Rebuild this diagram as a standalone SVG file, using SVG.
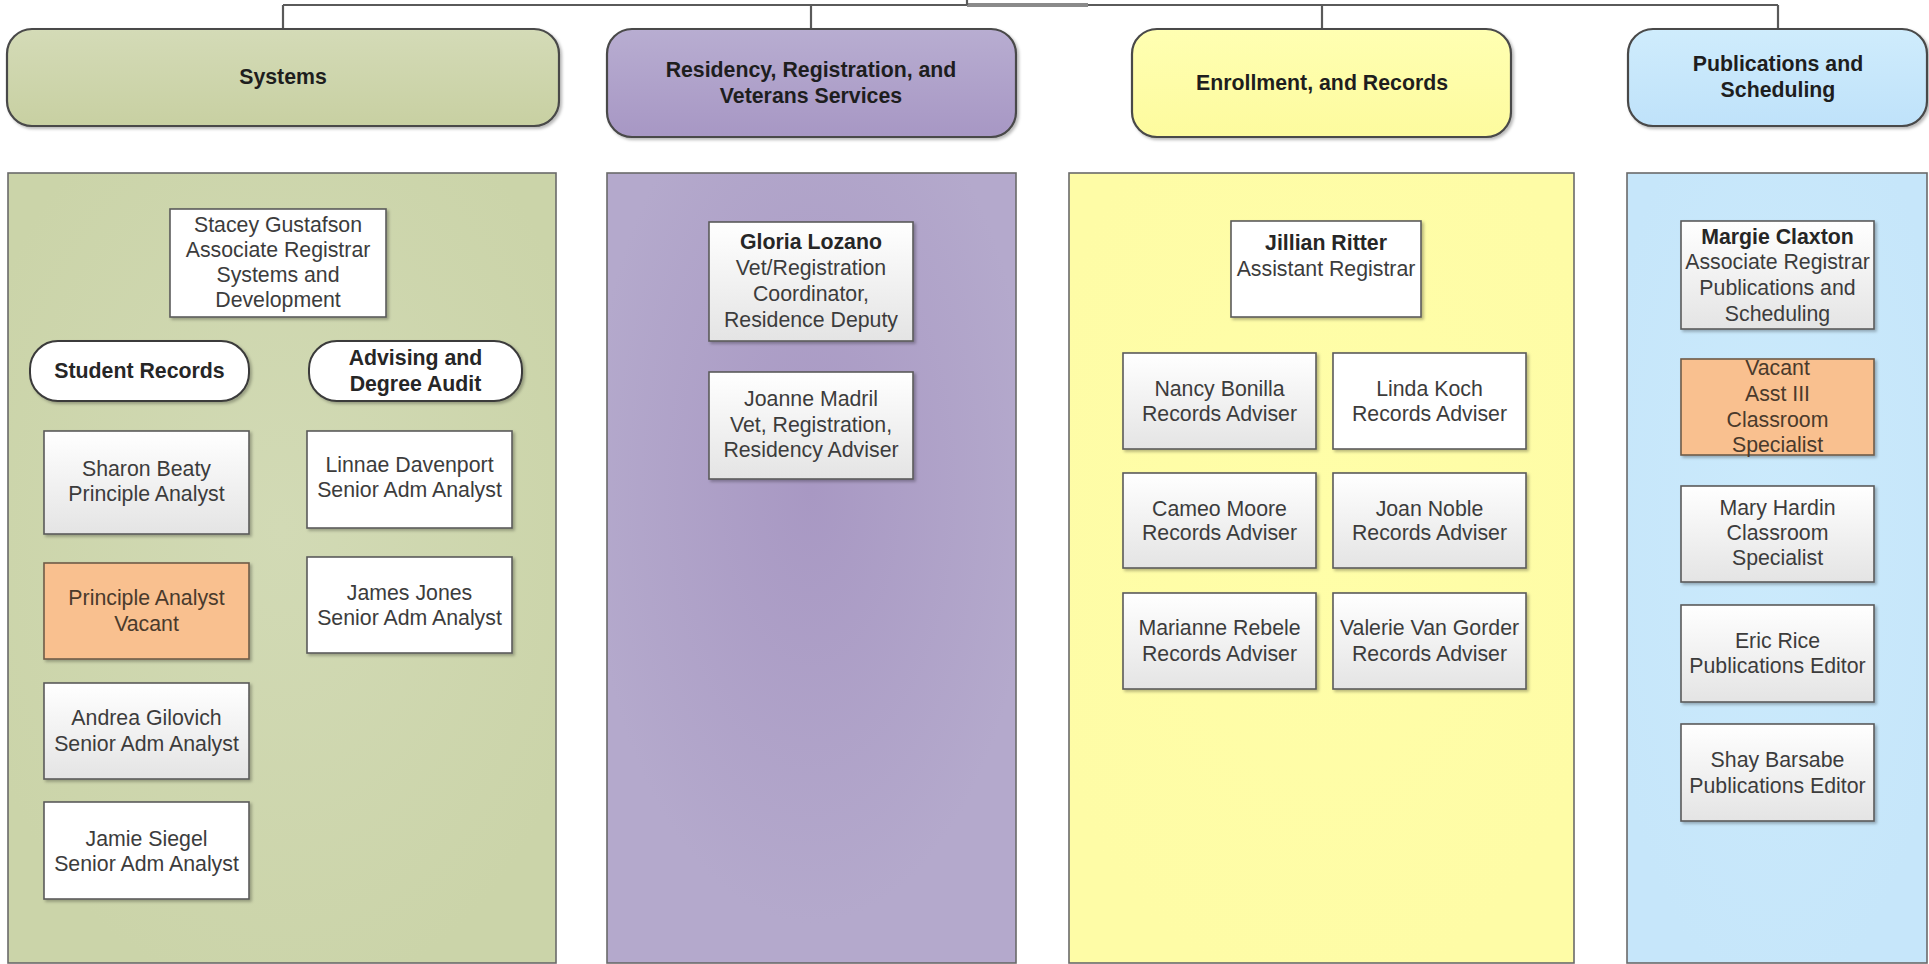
<svg xmlns="http://www.w3.org/2000/svg" width="1929" height="964" viewBox="0 0 1929 964">
<defs>
<linearGradient id="gHdrGreen" x1="0" y1="0" x2="0" y2="1"><stop offset="0" stop-color="#d4dbb7"/><stop offset="1" stop-color="#c8d0a2"/></linearGradient>
<linearGradient id="gHdrPurple" x1="0" y1="0" x2="0" y2="1"><stop offset="0" stop-color="#b8add1"/><stop offset="1" stop-color="#a797c4"/></linearGradient>
<linearGradient id="gHdrYellow" x1="0" y1="0" x2="0" y2="1"><stop offset="0" stop-color="#ffffb2"/><stop offset="1" stop-color="#fdfb9e"/></linearGradient>
<linearGradient id="gHdrBlue" x1="0" y1="0" x2="0" y2="1"><stop offset="0" stop-color="#cfecfc"/><stop offset="1" stop-color="#bfe2fa"/></linearGradient>
<radialGradient id="gPanGreen" cx="0.5" cy="0.45" r="0.6"><stop offset="0" stop-color="#d2dab5"/><stop offset="1" stop-color="#cbd4a9"/></radialGradient>
<radialGradient id="gPanPurple" cx="0.5" cy="0.4" r="0.55"><stop offset="0" stop-color="#a898c3"/><stop offset="1" stop-color="#b4a9cc"/></radialGradient>
<radialGradient id="gPanYellow" cx="0.5" cy="0.45" r="0.6"><stop offset="0" stop-color="#fffea8"/><stop offset="1" stop-color="#fefca6"/></radialGradient>
<radialGradient id="gPanBlue" cx="0.5" cy="0.45" r="0.6"><stop offset="0" stop-color="#cbeafc"/><stop offset="1" stop-color="#c6e6fa"/></radialGradient>
<linearGradient id="gBox" x1="0" y1="0" x2="0" y2="1"><stop offset="0" stop-color="#ffffff"/><stop offset="1" stop-color="#e4e4e4"/></linearGradient>
<filter id="sh" x="-10%" y="-10%" width="125%" height="125%"><feDropShadow dx="2" dy="2" stdDeviation="1.5" flood-color="#000" flood-opacity="0.28"/></filter>
</defs>
<style>
.hdr{stroke:#484848;stroke-width:2.2;filter:url(#sh)}
.pan{stroke:#6a6a6a;stroke-width:1.6}
.box{stroke:#5a5a5a;stroke-width:1.6;filter:url(#sh)}
.wht{fill:#ffffff}
.grd{fill:url(#gBox)}
.org{fill:#f9c08f;stroke:#6e5b48}
.pill{fill:#ffffff;stroke:#3a3a3a;stroke-width:2;filter:url(#sh)}
text{font-family:"Liberation Sans",Arial,Helvetica,sans-serif;font-size:21.3px;fill:#3c3c3c;text-anchor:middle}
.b{font-weight:bold;fill:#1e1e1e}
.bo{font-weight:bold;fill:#262626}
.conn{stroke:#5a5a5a;stroke-width:2.2;fill:none}
</style>
<rect width="1929" height="964" fill="#ffffff"/>

<g id="connectors">
<line class="conn" x1="283" y1="5" x2="1778" y2="5"/>
<line x1="967" y1="5" x2="1088" y2="5" stroke="#8a8a8a" stroke-width="4"/>
<line class="conn" x1="967" y1="0" x2="967" y2="5"/>
<line class="conn" x1="283" y1="5" x2="283" y2="29"/>
<line class="conn" x1="811" y1="5" x2="811" y2="29"/>
<line class="conn" x1="1322" y1="5" x2="1322" y2="29"/>
<line class="conn" x1="1778" y1="5" x2="1778" y2="29"/>
</g>

<g id="hdr-systems">
<rect class="hdr" x="7" y="29" width="552" height="97" rx="25" fill="url(#gHdrGreen)"/>
<text class="b" x="283" y="83.5">Systems</text>
</g>
<g id="hdr-residency">
<rect class="hdr" x="607" y="29" width="409" height="108" rx="25" fill="url(#gHdrPurple)"/>
<text class="b" x="811" y="76.5">Residency, Registration, and</text>
<text class="b" x="811" y="102.5">Veterans Services</text>
</g>
<g id="hdr-enrollment">
<rect class="hdr" x="1132" y="29" width="379" height="108" rx="25" fill="url(#gHdrYellow)"/>
<text class="b" x="1322" y="89.5">Enrollment, and Records</text>
</g>
<g id="hdr-publications">
<rect class="hdr" x="1628" y="29" width="299" height="97" rx="25" fill="url(#gHdrBlue)"/>
<text class="b" x="1778" y="70.5">Publications and</text>
<text class="b" x="1778" y="97">Scheduling</text>
</g>

<g id="panel-systems">
<rect class="pan" x="8" y="173" width="548" height="790" fill="url(#gPanGreen)"/>
</g>
<g id="panel-residency">
<rect class="pan" x="607" y="173" width="409" height="790" fill="url(#gPanPurple)"/>
</g>
<g id="panel-enrollment">
<rect class="pan" x="1069" y="173" width="505" height="790" fill="url(#gPanYellow)"/>
</g>
<g id="panel-publications">
<rect class="pan" x="1627" y="173" width="300" height="790" fill="url(#gPanBlue)"/>
</g>

<g id="stacey">
<rect class="box wht" x="170" y="209" width="216" height="108"/>
<text x="278" y="231.5">Stacey Gustafson</text>
<text x="278" y="256.5">Associate Registrar</text>
<text x="278" y="281.5">Systems and</text>
<text x="278" y="306.5">Development</text>
</g>
<g id="student-records">
<rect class="pill" x="30" y="341" width="219" height="60" rx="28"/>
<text class="bo" x="139.5" y="377.5">Student Records</text>
</g>
<g id="advising">
<rect class="pill" x="309" y="341" width="213" height="60" rx="28"/>
<text class="bo" x="415.5" y="364.5">Advising and</text>
<text class="bo" x="415.5" y="390.5">Degree Audit</text>
</g>
<g id="sharon">
<rect class="box grd" x="44" y="431" width="205" height="103"/>
<text x="146.5" y="476">Sharon Beaty</text>
<text x="146.5" y="501">Principle Analyst</text>
</g>
<g id="linnae">
<rect class="box wht" x="307" y="431" width="205" height="97"/>
<text x="409.5" y="472">Linnae Davenport</text>
<text x="409.5" y="497">Senior Adm Analyst</text>
</g>
<g id="vacant-analyst">
<rect class="box org" x="44" y="563" width="205" height="96"/>
<text x="146.5" y="604.5" style="fill:#4a3a2c">Principle Analyst</text>
<text x="146.5" y="630.5" style="fill:#4a3a2c">Vacant</text>
</g>
<g id="james">
<rect class="box wht" x="307" y="557" width="205" height="96"/>
<text x="409.5" y="599.5">James Jones</text>
<text x="409.5" y="624.5">Senior Adm Analyst</text>
</g>
<g id="andrea">
<rect class="box grd" x="44" y="683" width="205" height="96"/>
<text x="146.5" y="724.5">Andrea Gilovich</text>
<text x="146.5" y="750.5">Senior Adm Analyst</text>
</g>
<g id="jamie">
<rect class="box wht" x="44" y="802" width="205" height="97"/>
<text x="146.5" y="845.5">Jamie Siegel</text>
<text x="146.5" y="870.5">Senior Adm Analyst</text>
</g>

<g id="gloria">
<rect class="box grd" x="709" y="222" width="204" height="119"/>
<text class="bo" x="811" y="248.5">Gloria Lozano</text>
<text x="811" y="274.5">Vet/Registration</text>
<text x="811" y="300.5">Coordinator,</text>
<text x="811" y="326.5">Residence Deputy</text>
</g>
<g id="joanne">
<rect class="box grd" x="709" y="372" width="204" height="107"/>
<text x="811" y="405.5">Joanne Madril</text>
<text x="811" y="431.5">Vet, Registration,</text>
<text x="811" y="456.5">Residency Adviser</text>
</g>

<g id="jillian">
<rect class="box wht" x="1231" y="221" width="190" height="96"/>
<text class="bo" x="1326" y="249.5">Jillian Ritter</text>
<text x="1326" y="275.5">Assistant Registrar</text>
</g>
<g id="nancy">
<rect class="box grd" x="1123" y="353" width="193" height="96"/>
<text x="1219.5" y="395.5">Nancy Bonilla</text>
<text x="1219.5" y="420.5">Records Adviser</text>
</g>
<g id="linda">
<rect class="box wht" x="1333" y="353" width="193" height="96"/>
<text x="1429.5" y="395.5">Linda Koch</text>
<text x="1429.5" y="420.5">Records Adviser</text>
</g>
<g id="cameo">
<rect class="box grd" x="1123" y="473" width="193" height="95"/>
<text x="1219.5" y="515.5">Cameo Moore</text>
<text x="1219.5" y="539.5">Records Adviser</text>
</g>
<g id="joan">
<rect class="box grd" x="1333" y="473" width="193" height="95"/>
<text x="1429.5" y="515.5">Joan Noble</text>
<text x="1429.5" y="539.5">Records Adviser</text>
</g>
<g id="marianne">
<rect class="box grd" x="1123" y="593" width="193" height="96"/>
<text x="1219.5" y="634.5">Marianne Rebele</text>
<text x="1219.5" y="660.5">Records Adviser</text>
</g>
<g id="valerie">
<rect class="box grd" x="1333" y="593" width="193" height="96"/>
<text x="1429.5" y="634.5">Valerie Van Gorder</text>
<text x="1429.5" y="660.5">Records Adviser</text>
</g>

<g id="margie">
<rect class="box grd" x="1681" y="221" width="193" height="108"/>
<text class="bo" x="1777.5" y="243.5">Margie Claxton</text>
<text x="1777.5" y="268.5">Associate Registrar</text>
<text x="1777.5" y="294.5">Publications and</text>
<text x="1777.5" y="320.5">Scheduling</text>
</g>
<g id="vacant-asst">
<rect class="box org" x="1681" y="359" width="193" height="96"/>
<text x="1777.5" y="374.5" style="fill:#4a3a2c">Vacant</text>
<text x="1777.5" y="400.5" style="fill:#4a3a2c">Asst III</text>
<text x="1777.5" y="426.5" style="fill:#4a3a2c">Classroom</text>
<text x="1777.5" y="451.5" style="fill:#4a3a2c">Specialist</text>
</g>
<g id="mary">
<rect class="box grd" x="1681" y="486" width="193" height="96"/>
<text x="1777.5" y="514.5">Mary Hardin</text>
<text x="1777.5" y="539.5">Classroom</text>
<text x="1777.5" y="564.5">Specialist</text>
</g>
<g id="eric">
<rect class="box grd" x="1681" y="605" width="193" height="97"/>
<text x="1777.5" y="647.5">Eric Rice</text>
<text x="1777.5" y="672.5">Publications Editor</text>
</g>
<g id="shay">
<rect class="box grd" x="1681" y="724" width="193" height="97"/>
<text x="1777.5" y="766.5">Shay Barsabe</text>
<text x="1777.5" y="792.5">Publications Editor</text>
</g>
</svg>
